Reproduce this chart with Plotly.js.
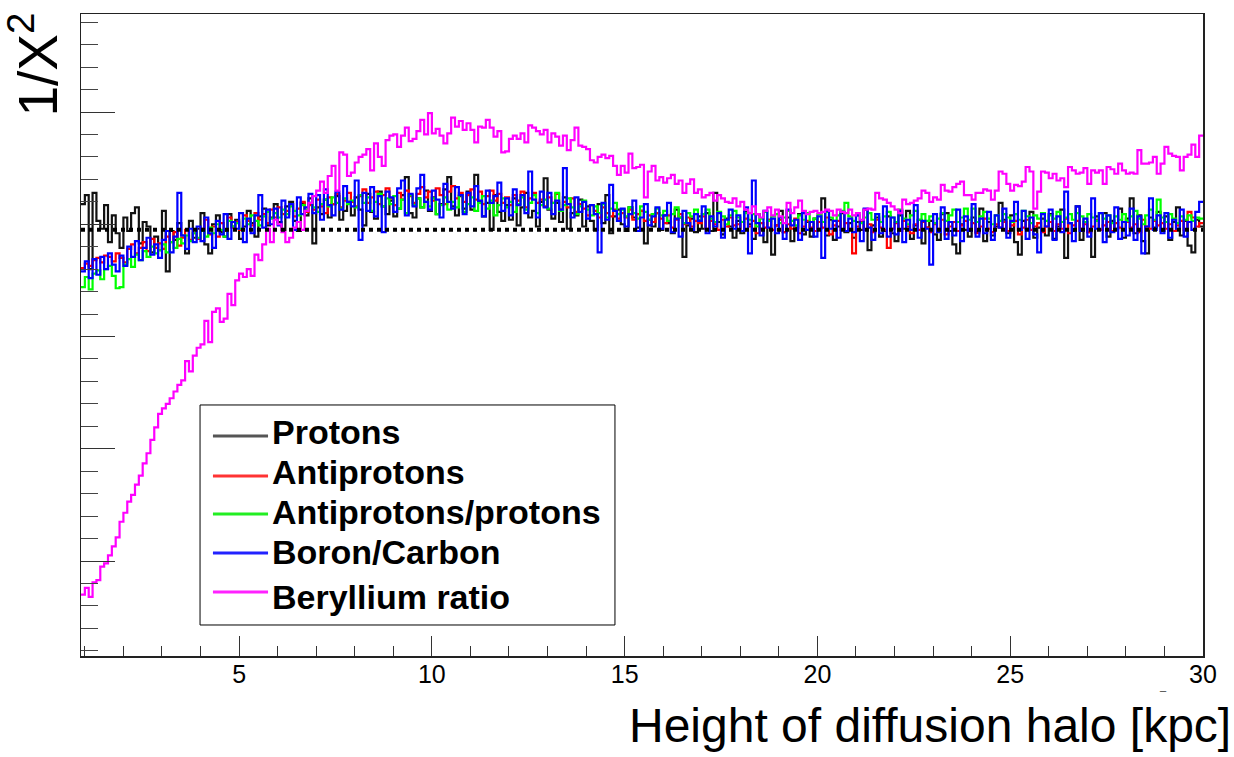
<!DOCTYPE html>
<html>
<head>
<meta charset="utf-8">
<script src="https://cdn.plot.ly/plotly-3.0.1.min.js"></script>
<style>
  html, body { margin: 0; padding: 0; background: #ffffff; }
  #chart { width: 1234px; height: 757px; }
</style>
</head>
<body>
<div id="chart"></div>
<script>
// Histogram binning along the halo height axis [kpc]
const binStart = 0.9;
const binWidth = 0.1;

// Reference level drawn as the dotted horizontal line
const refLevel = 39.5;

const seriesNames = ['Protons', 'Antiprotons', 'Antiprotons/protons', 'Boron/Carbon', 'Beryllium ratio'];
const seriesColors = ['#111111', '#ff0000', '#00ff00', '#0000ff', '#ff00ff'];
const legendSampleColors = ['#555555', '#ff3333', '#22ee22', '#2222ff', '#ff22ff'];

// 1/chi^2 per bin, one row per 1 kpc (10 bins), last entry is the 29.9-30 bin
const protons = [
  41.8, 42.6, 36.0, 42.8, 40.3, 39.6, 41.7, 38.4, 40.8, 39.2,
  37.9, 40.6, 39.4, 41.0, 41.5, 38.3, 40.2, 39.8, 37.5, 38.9,
  37.7, 41.2, 35.8, 39.4, 38.6, 40.1, 39.0, 37.4, 40.3, 38.8,
  39.6, 41.0, 38.2, 37.4, 40.0, 40.8, 39.3, 38.9, 40.9, 39.8,
  40.4, 38.7, 39.8, 41.2, 40.1, 38.9, 40.7, 41.4, 39.9, 40.6,
  41.8, 40.2, 39.5, 41.6, 42.0, 40.3, 39.4, 41.9, 40.8, 42.3,
  38.3, 41.5, 40.9, 42.2, 40.6, 41.8, 42.5, 40.4, 41.2, 42.0,
  40.8, 42.4, 41.3, 39.9, 42.7, 41.1, 40.5, 42.9, 41.6, 40.9,
  42.1, 40.7, 41.4, 42.6, 44.2, 41.0, 40.6, 42.3, 41.5, 43.0,
  41.2, 42.4, 40.9, 41.8, 43.1, 44.2, 41.6, 40.8, 42.5, 41.4,
  42.9, 41.3, 44.4, 42.0, 40.7, 41.9, 39.5, 42.6, 41.1, 40.3,
  41.7, 40.4, 42.3, 39.9, 41.5, 42.8, 40.6, 41.2, 39.8, 42.0,
  44.1, 41.3, 40.5, 41.9, 40.2, 42.4, 39.6, 41.0, 40.8, 42.2,
  39.8, 41.6, 40.3, 39.5, 41.8, 40.1, 42.6, 39.2, 40.7, 41.3,
  40.0, 39.4, 41.5, 40.6, 39.7, 41.2, 38.3, 40.4, 39.8, 41.0,
  39.5, 40.8, 40.1, 39.2, 41.3, 40.6, 37.1, 39.9, 40.5, 39.3,
  40.7, 39.6, 41.0, 39.4, 42.8, 40.2, 39.1, 40.5, 39.8, 38.8,
  40.3, 39.2, 41.1, 40.0, 38.7, 40.9, 39.6, 38.4, 40.4, 37.3,
  39.9, 41.2, 39.3, 40.6, 38.5, 39.7, 40.9, 39.1, 40.2, 38.9,
  40.5, 39.6, 42.3, 39.0, 40.4, 38.6, 39.8, 41.0, 39.3, 40.1,
  38.8, 40.2, 39.5, 41.3, 37.7, 39.9, 40.6, 38.9, 39.4, 40.7,
  39.2, 38.5, 40.8, 39.6, 41.2, 38.7, 39.9, 40.4, 38.3, 39.7,
  40.3, 39.1, 38.6, 40.9, 41.0, 39.4, 38.2, 37.4, 40.0, 39.5,
  38.9, 40.6, 39.3, 41.4, 38.5, 40.2, 39.0, 39.8, 41.9, 40.4,
  39.2, 40.8, 38.4, 37.3, 40.3, 39.6, 41.1, 38.8, 39.7, 40.5,
  39.0, 40.9, 38.7, 39.8, 41.3, 37.0, 40.1, 39.4, 41.6, 38.6,
  40.2, 39.3, 37.1, 40.7, 39.5, 41.0, 38.9, 40.3, 39.6, 41.4,
  38.8, 40.5, 42.3, 39.2, 40.8, 38.5, 37.4, 40.6, 39.7, 41.1,
  39.4, 40.7, 38.6, 40.2, 41.5, 39.0, 40.3, 38.1, 37.5, 40.4,
  39.8
];

const antiprotons = [
  36.1, 36.5, 36.3, 36.8, 37.0, 36.6, 37.2, 37.1, 36.7, 37.4,
  37.0, 36.6, 37.8, 38.2, 37.4, 37.9, 38.4, 37.6, 38.7, 37.9,
  38.3, 37.8, 38.9, 38.4, 39.3, 38.1, 38.8, 39.5, 38.6, 39.2,
  38.7, 39.6, 40.4, 39.1, 39.8, 38.9, 40.1, 39.4, 40.6, 39.7,
  40.2, 39.5, 40.8, 40.3, 39.9, 41.0, 40.4, 40.9, 40.1, 41.3,
  40.6, 41.5, 40.9, 41.2, 41.8, 40.7, 41.4, 42.0, 41.1, 41.7,
  41.3, 42.2, 41.6, 41.0, 42.4, 41.8, 42.7, 41.5, 42.1, 42.8,
  42.0, 41.6, 42.5, 43.1, 41.9, 42.4, 42.9, 41.8, 42.6, 43.2,
  42.3, 41.7, 42.8, 42.2, 43.0, 42.5, 41.9, 42.7, 43.3, 42.4,
  42.9, 42.1, 43.2, 42.6, 41.8, 42.9, 43.4, 42.3, 42.8, 42.0,
  42.6, 43.1, 42.2, 42.9, 41.8, 42.5, 43.0, 42.1, 42.7, 41.9,
  42.4, 41.7, 42.6, 42.1, 42.9, 41.5, 42.3, 42.8, 41.9, 42.2,
  41.6, 42.4, 41.9, 42.7, 41.3, 42.0, 41.5, 42.3, 41.1, 41.8,
  41.4, 40.8, 41.7, 41.2, 40.6, 41.5, 41.0, 40.7, 41.3, 40.5,
  41.0, 40.6, 41.3, 40.4, 40.9, 41.2, 40.3, 40.8, 40.2, 41.0,
  40.5, 40.1, 40.8, 39.7, 40.4, 40.9, 40.0, 40.6, 39.8, 40.3,
  40.1, 40.7, 39.6, 40.3, 40.0, 39.5, 40.4, 39.8, 40.6, 39.9,
  40.0, 39.4, 40.5, 39.8, 40.3, 39.2, 40.1, 39.7, 40.4, 39.5,
  39.9, 40.4, 39.3, 40.0, 39.6, 40.5, 39.2, 39.8, 40.3, 39.7,
  39.4, 40.2, 39.7, 40.6, 39.1, 39.9, 40.3, 39.5, 40.1, 39.6,
  37.4, 39.8, 40.2, 39.5, 40.0, 39.3, 40.4, 39.7, 39.5, 37.9,
  39.6, 40.1, 39.4, 40.3, 39.8, 39.2, 40.0, 39.5, 40.2, 39.7,
  39.3, 40.0, 39.6, 40.4, 39.1, 39.8, 40.2, 39.4, 39.9, 40.3,
  39.5, 40.1, 39.2, 39.8, 40.5, 39.6, 39.3, 40.0, 39.7, 40.2,
  39.4, 39.9, 40.3, 39.1, 39.7, 40.4, 39.5, 39.8, 40.1, 39.3,
  39.8, 40.2, 39.4, 40.0, 39.6, 40.5, 39.2, 39.9, 40.3, 39.6,
  40.0, 39.3, 39.8, 40.4, 39.5, 39.9, 40.2, 39.4, 40.1, 39.7,
  39.5, 40.2, 39.7, 40.0, 39.3, 40.4, 39.8, 39.6, 40.3, 39.9,
  40.1, 39.6, 40.0, 39.4, 39.9, 40.3, 39.5, 41.1, 40.6, 39.8,
  40.1
];

const antiprotonsOverProtons = [
  34.4, 35.3, 34.2, 35.6, 35.9, 35.1, 36.0, 36.3, 35.4, 34.3,
  34.4, 36.4, 36.9, 36.2, 37.3, 36.8, 37.6, 37.1, 38.0, 37.4,
  37.7, 38.2, 37.5, 38.4, 37.9, 38.7, 38.3, 39.0, 38.5, 39.2,
  38.8, 39.4, 38.9, 39.7, 39.2, 40.0, 39.5, 38.9, 40.3, 39.8,
  40.1, 39.6, 40.5, 40.0, 40.8, 40.3, 39.9, 40.7, 41.1, 40.5,
  41.0, 40.6, 41.3, 40.9, 41.6, 41.2, 40.8, 41.7, 41.3, 41.9,
  41.5, 41.1, 41.8, 42.2, 41.6, 42.4, 41.9, 41.4, 42.3, 41.8,
  42.1, 41.5, 42.6, 41.9, 42.4, 41.2, 42.0, 42.7, 41.6, 42.3,
  41.8, 42.5, 41.4, 42.2, 41.0, 42.6, 41.7, 42.3, 41.5, 42.0,
  41.6, 42.3, 40.9, 41.7, 42.4, 41.3, 42.0, 41.5, 42.6, 41.1,
  41.8, 42.4, 41.2, 41.9, 42.5, 41.4, 42.1, 40.8, 41.7, 42.3,
  41.5, 42.0, 41.1, 41.8, 42.4, 41.3, 41.9, 42.6, 41.0, 41.7,
  42.2, 41.4, 41.9, 42.8, 41.2, 41.7, 42.3, 41.5, 40.9, 41.6,
  42.1, 41.3, 40.8, 41.6, 41.0, 41.8, 40.6, 41.4, 41.9, 40.9,
  41.3, 40.7, 41.5, 41.0, 40.5, 41.6, 41.1, 40.4, 40.9, 41.4,
  40.8, 41.2, 40.3, 40.9, 41.5, 40.6, 40.1, 41.0, 40.7, 41.3,
  40.4, 40.9, 41.3, 40.5, 40.2, 41.1, 40.7, 40.0, 40.8, 41.2,
  40.6, 40.2, 41.0, 40.4, 40.9, 39.8, 40.5, 41.1, 40.3, 40.7,
  40.9, 40.1, 40.6, 41.2, 40.3, 39.9, 40.8, 40.4, 41.0, 40.2,
  40.5, 40.9, 40.2, 41.1, 40.6, 40.3, 40.8, 41.2, 41.9, 40.7,
  40.3, 40.8, 40.1, 40.6, 41.0, 40.4, 40.9, 40.2, 40.7, 41.1,
  40.6, 40.2, 41.3, 40.5, 40.0, 40.8, 41.2, 40.4, 40.9, 40.3,
  40.7, 40.1, 40.5, 41.0, 40.3, 40.8, 41.3, 40.2, 40.6, 41.4,
  40.4, 41.4, 40.2, 40.7, 41.1, 40.5, 40.0, 40.8, 40.3, 40.9,
  40.6, 40.2, 40.9, 40.4, 41.2, 40.7, 40.1, 40.8, 40.5, 41.0,
  40.3, 40.8, 40.5, 41.1, 40.2, 40.6, 40.9, 40.4, 41.0, 40.7,
  40.2, 40.9, 40.6, 40.3, 41.0, 40.5, 40.8, 40.1, 40.7, 40.4,
  40.9, 40.3, 40.7, 41.2, 40.5, 40.0, 40.8, 41.3, 40.4, 42.2,
  40.6, 40.2, 40.9, 40.5, 40.1, 40.7, 40.4, 40.8, 40.3, 40.6,
  40.5
];

const boronOverCarbon = [
  35.8, 36.7, 35.2, 36.9, 35.5, 37.1, 36.0, 37.4, 36.4, 35.8,
  37.2, 36.3, 38.0, 37.1, 38.5, 36.8, 37.9, 38.8, 37.3, 38.2,
  37.0, 38.6, 39.4, 37.5, 38.9, 42.8, 39.0, 37.8, 39.6, 38.4,
  39.8, 38.5, 40.6, 39.2, 37.9, 40.3, 39.1, 40.9, 38.7, 40.2,
  39.6, 41.0, 38.4, 40.5, 39.2, 40.8, 42.6, 39.7, 41.3, 40.0,
  41.4, 39.9, 42.1, 40.6, 41.8, 39.5, 42.4, 40.9, 41.5, 42.7,
  41.0, 42.6, 40.4, 43.1, 41.7, 40.8, 42.9, 41.3, 43.4, 42.0,
  41.6, 43.9, 38.6, 42.8, 41.2, 43.3, 40.7, 42.5, 39.3, 42.9,
  42.4, 41.1, 43.2, 43.9, 40.8, 42.7, 41.6, 43.2, 44.4, 42.0,
  41.3, 43.0, 42.2, 40.6, 43.6, 42.0, 41.4, 43.3, 42.6, 40.9,
  42.8, 41.6, 43.4, 42.1, 40.7, 43.0, 41.9, 42.5, 43.7, 41.2,
  42.3, 40.8, 43.1, 41.7, 42.6, 41.0, 44.7, 42.2, 40.6, 42.9,
  41.5, 42.8, 40.9, 42.1, 41.3, 45.0, 41.8, 40.6, 42.4, 41.1,
  42.0, 40.5, 41.7, 40.9, 37.5, 41.9, 40.4, 43.5, 41.2, 40.3,
  41.4, 39.8, 40.9, 42.1, 39.4, 40.6, 41.8, 39.9, 40.7, 41.5,
  39.6, 40.8, 41.9, 39.3, 40.5, 38.9, 41.2, 40.1, 39.5, 40.9,
  40.3, 41.6, 39.2, 40.7, 39.8, 41.0, 38.8, 40.4, 41.3, 39.6,
  40.8, 39.4, 41.5, 37.4, 43.9, 40.1, 39.0, 41.2, 39.7, 40.5,
  39.2, 40.6, 38.7, 41.3, 39.9, 40.4, 38.6, 41.0, 39.5, 40.2,
  38.9, 40.7, 37.0, 41.2, 39.6, 40.3, 38.8, 41.1, 39.4, 40.5,
  39.3, 40.8, 38.5, 41.4, 39.7, 38.6, 40.9, 39.2, 41.6, 38.9,
  40.6, 39.1, 41.2, 38.4, 40.4, 39.5, 41.7, 38.8, 40.3, 39.6,
  36.4, 40.9, 39.3, 41.5, 38.7, 40.2, 39.0, 41.3, 38.5, 40.7,
  39.4, 41.8, 38.9, 40.5, 39.2, 41.1, 38.6, 40.8, 39.7, 41.4,
  38.8, 40.3, 42.0, 39.5, 41.2, 38.7, 40.6, 39.1, 37.5, 40.9,
  39.8, 41.3, 38.6, 40.7, 39.3, 42.9, 40.1, 38.5, 41.6, 39.4,
  40.5, 38.9, 42.3, 39.6, 41.0, 38.4, 40.8, 39.3, 41.5, 38.7,
  40.2, 39.0, 41.4, 38.6, 40.7, 37.4, 39.8, 42.3, 39.5, 40.8,
  39.2, 41.0, 38.8, 40.4, 39.6, 41.3, 38.9, 40.2, 39.5, 41.1,
  42.0
];

const berylliumRatio = [
  7.0, 7.6, 6.8, 8.1, 8.3, 9.5, 9.8, 10.5, 11.3, 12.1,
  13.5, 14.3, 15.3, 15.9, 16.8, 17.6, 18.7, 19.6, 20.8, 21.9,
  23.1, 23.6, 24.0, 24.5, 25.1, 25.7, 26.1, 27.8, 26.9, 28.3,
  29.0, 29.3, 31.4, 29.5, 32.2, 32.5, 31.3, 31.6, 33.8, 32.8,
  35.0, 35.6, 35.3, 36.0, 35.4, 37.3, 36.8, 38.2, 39.6, 38.4,
  40.4, 40.0, 39.3, 38.4, 38.8, 39.7, 40.2, 39.5, 41.2, 41.9,
  42.5, 43.0, 43.8, 42.8, 44.3, 45.2, 43.0, 46.4, 46.2, 44.3,
  44.6, 45.5, 46.0, 46.2, 46.7, 44.8, 47.2, 46.0, 45.2, 47.5,
  47.9, 48.0, 46.9, 47.9, 48.6, 47.4, 47.6, 48.3, 49.3, 48.0,
  49.9, 48.1, 48.5, 47.9, 47.2, 48.1, 49.5, 48.7, 49.2, 48.4,
  49.0, 48.4, 47.3, 48.7, 48.6, 49.3, 48.6, 47.8, 48.3, 46.4,
  46.5, 47.6, 47.9, 47.6, 48.1, 47.3, 48.8, 48.6, 48.3, 48.0,
  48.4, 47.3, 48.1, 47.8, 47.0, 47.9, 46.6, 47.5, 48.6, 47.0,
  46.9, 46.7, 45.7, 45.5, 46.0, 46.2, 45.9, 46.1, 45.2, 44.4,
  45.2, 44.6, 46.3, 45.0, 45.1, 45.3, 42.4, 44.7, 45.2, 43.9,
  44.2, 43.7, 44.1, 44.4, 43.6, 43.9, 42.8, 43.6, 44.0, 42.8,
  43.1, 42.4, 42.6, 42.8, 42.1, 42.6, 42.3, 42.0, 41.9, 42.3,
  41.6, 42.0, 41.3, 41.0, 41.6, 40.9, 40.6, 41.2, 41.5, 40.8,
  41.3, 40.7, 40.1, 41.9, 41.0, 41.5, 42.1, 41.2, 40.9, 41.1,
  41.2, 41.0, 41.1, 41.3, 41.2, 40.8, 41.3, 41.1, 41.0, 41.3,
  40.8, 41.0, 40.4, 41.3, 41.4, 41.3, 42.8, 42.3, 42.2, 41.9,
  41.6, 41.3, 41.0, 42.2, 41.8, 41.9, 42.1, 42.3, 43.0, 42.8,
  42.0, 42.4, 42.2, 43.5, 43.0, 42.9, 43.3, 43.6, 43.8, 42.6,
  42.6, 42.2, 42.8, 42.8, 43.1, 43.0, 42.2, 43.0, 44.7, 44.5,
  43.6, 43.0, 43.5, 43.4, 43.8, 45.1, 44.7, 41.4, 42.9, 44.7,
  44.6, 44.1, 44.5, 43.9, 44.1, 43.3, 45.1, 44.8, 44.5, 44.6,
  45.0, 43.6, 44.8, 44.6, 44.8, 43.6, 45.1, 44.9, 44.5, 45.4,
  44.8, 44.5, 44.6, 44.5, 46.6, 45.4, 45.4, 45.5, 46.0, 44.5,
  45.4, 46.9, 46.3, 46.1, 46.0, 44.8, 46.0, 46.2, 47.1, 46.0,
  47.9
];

const seriesValues = [protons, antiprotons, antiprotonsOverProtons, boronOverCarbon, berylliumRatio];

const FONT = 'Liberation Sans, Arial, Helvetica, sans-serif';

// Bin edges; the last bin content is repeated so the final step closes at the upper edge
function stepTrace(values, name, color) {
  const x = [];
  const y = [];
  for (let i = 0; i <= values.length; i++) {
    x.push(+(binStart + i * binWidth).toFixed(4));
    y.push(values[Math.min(i, values.length - 1)]);
  }
  return {
    type: 'scatter',
    mode: 'lines',
    name: name,
    x: x,
    y: y,
    line: { shape: 'hv', color: color, width: 2.2 },
    showlegend: false,
    hoverinfo: 'skip'
  };
}

const traces = seriesValues.map((vals, k) => stepTrace(vals, seriesNames[k], seriesColors[k]));

const xMax = binStart + protons.length * binWidth;
traces.push({
  type: 'scatter',
  mode: 'lines',
  x: [binStart, xMax],
  y: [refLevel, refLevel],
  line: { color: '#000000', width: 4, dash: 'dot' },
  showlegend: false,
  hoverinfo: 'skip'
});

// Legend box (paper coordinates): frame, line samples and bold labels
const legendBox = { x0: 0.1061, x1: 0.4759, y0: 0.0483, y1: 0.391 };
const legendSample = { x0: 0.1176, x1: 0.1667 };
const legendTextX = 0.1685;
const legendLineY = [0.3427, 0.2804, 0.2212, 0.1604, 0.0997];
const legendTextY = [0.3489, 0.2866, 0.2243, 0.1620, 0.0919];

const shapes = [{
  type: 'rect', xref: 'paper', yref: 'paper',
  x0: legendBox.x0, x1: legendBox.x1, y0: legendBox.y0, y1: legendBox.y1,
  fillcolor: '#ffffff', line: { color: '#000000', width: 1 }, layer: 'above'
}];
seriesNames.forEach((name, k) => {
  shapes.push({
    type: 'line', xref: 'paper', yref: 'paper',
    x0: legendSample.x0, x1: legendSample.x1, y0: legendLineY[k], y1: legendLineY[k],
    line: { color: legendSampleColors[k], width: 3 }, layer: 'above'
  });
});

const annotations = seriesNames.map((name, k) => ({
  text: '<b>' + name + '</b>',
  xref: 'paper', yref: 'paper',
  x: legendTextX, y: legendTextY[k],
  xanchor: 'left', yanchor: 'middle',
  showarrow: false,
  font: { family: FONT, size: 34, color: '#000000' }
}));

annotations.push({
  text: '1/X<sup>2</sup>',
  xref: 'paper', yref: 'paper',
  x: -0.0415, y: 1.006,
  xanchor: 'center', yanchor: 'top',
  textangle: -90,
  showarrow: false,
  font: { family: FONT, size: 55, color: '#000000' }
});
annotations.push({
  text: 'Height of diffusion halo [kpc]',
  xref: 'paper', yref: 'paper',
  x: 1.027, y: -0.064,
  xanchor: 'right', yanchor: 'top',
  showarrow: false,
  font: { family: FONT, size: 48, color: '#000000' }
});
// small dash mark below the upper end of the x axis
annotations.push({
  text: '_',
  xref: 'paper', yref: 'paper',
  x: 0.9643, y: -0.047,
  xanchor: 'center', yanchor: 'middle',
  showarrow: false,
  font: { family: FONT, size: 11, color: '#333333' }
});

const layout = {
  width: 1234,
  height: 757,
  margin: { l: 81, r: 31, t: 14, b: 101, pad: 0 },
  paper_bgcolor: '#ffffff',
  plot_bgcolor: '#ffffff',
  font: { family: FONT, color: '#000000' },
  showlegend: false,
  xaxis: {
    range: [binStart, xMax],
    showgrid: false,
    zeroline: false,
    showline: true,
    mirror: true,
    linecolor: '#222222',
    linewidth: 1.5,
    ticks: 'inside',
    ticklen: 20,
    tickwidth: 1,
    tickcolor: '#333333',
    tick0: 0,
    dtick: 5,
    ticklabelstandoff: -5,
    tickfont: { family: FONT, size: 25, color: '#000000' },
    minor: { ticks: 'inside', ticklen: 10, tickwidth: 1, tickcolor: '#333333', tick0: 0, dtick: 1, showgrid: false }
  },
  yaxis: {
    range: [1.54, 58.73],
    showgrid: false,
    zeroline: false,
    showline: true,
    mirror: true,
    linecolor: '#222222',
    linewidth: 1.5,
    ticks: 'inside',
    ticklen: 34,
    tickwidth: 1,
    tickcolor: '#333333',
    tick0: 0,
    dtick: 10,
    showticklabels: false,
    minor: { ticks: 'inside', ticklen: 17, tickwidth: 1, tickcolor: '#444444', tick0: 0, dtick: 2, showgrid: false }
  },
  shapes: shapes,
  annotations: annotations
};

Plotly.newPlot('chart', traces, layout, { staticPlot: true, displayModeBar: false });
</script>
</body>
</html>
